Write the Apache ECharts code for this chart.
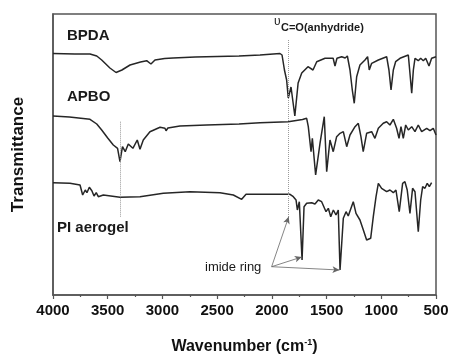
<!DOCTYPE html>
<html>
<head>
<meta charset="utf-8">
<script src="https://cdn.jsdelivr.net/npm/echarts@6/dist/echarts.min.js"></script>
<style>html,body{margin:0;padding:0;background:#fff;}#c{width:452px;height:355px;}</style>
</head>
<body>
<div id="c"></div>
<script>
// FTIR spectra (x: wavenumber cm-1, y: transmittance, arbitrary offset units)
const bpdaWn = [4000,3800,3662,3600,3555,3480,3424,3370,3296,3200,3144,3105,3068,2980,2903,2700,2500,2300,2108,1926,1907,1885,1865,1850,1825,1790,1760,1727,1670,1624,1590,1514,1440,1423,1405,1362,1330,1310,1286,1265,1247,1225,1195,1149,1125,1110,1088,1027,951,930,911,890,869,829,753,738,722,707,692,662,640,616,594,564,540,500];
const bpdaT  = [241.5,241,241,239,235,227,222.5,225,230,233,234.3,231,235,236.5,237,238,238.5,239,240,241.5,240,225,215,197,208,179,212,222,228.3,225,233.3,236.7,236.7,229,236.7,238.3,237,239,225,205,191.7,218.3,230,235,238.3,225,231.7,235,238.3,225,205,225,233.3,236.7,240,221.7,201.7,225,236.7,234.3,236.7,234.3,236.7,229,236.7,238.3];

const apboWn = [4000,3850,3662,3600,3555,3500,3449,3410,3388,3365,3340,3312,3270,3230,3205,3175,3114,3022,2977,2967,2950,2840,2596,2300,2108,1850,1720,1682,1667,1642,1630,1600,1560,1521,1499,1469,1439,1408,1377,1347,1316,1286,1240,1210,1186,1165,1134,1088,1058,1027,982,951,921,890,860,838,820,799,777,753,722,692,662,631,585,555,525,500];
const apboT  = [179,178,175.7,171,165,157,150,146.7,133.3,148.3,143.3,151,146.7,155,145.7,155,163.3,167.7,166.7,164.3,167,169,170,171,172.3,173.3,175.5,176.7,168.3,143.3,156.7,120,151.7,178.3,123.3,155,143.3,158.3,161.7,163.3,148.3,160,168.3,171.7,158.3,143.3,161.7,163.3,156.7,166.7,171.7,173.3,170,175.7,166.7,156.7,168.3,156.7,170,165,168.3,163.3,170,163.3,166.7,164.3,166.7,160];

const piWn = [4000,3845,3753,3729,3705,3690,3668,3645,3625,3605,3586,3540,3388,3205,2992,2748,2474,2352,2276,2236,2108,1834,1804,1779,1767,1749,1724,1706,1682,1636,1606,1576,1545,1505,1484,1462,1438,1414,1393,1377,1347,1322,1302,1256,1231,1195,1164,1134,1097,1073,1048,1027,997,951,921,890,866,836,805,784,763,738,714,692,662,640,622,601,580,561,540];
const piT  = [112.3,111.7,110,100,105,102.3,107.7,104.3,99,102.3,98.3,100,97.7,98.3,101.7,103.3,102.3,100,95.7,100.7,100.7,100.7,98.3,95,85,93.3,35,88.3,91.7,92.3,91,95,93.3,83.3,86.7,78.3,85,80,85,25,76.7,83.3,79,93.3,81.7,75,65,55,56.7,78.3,98.3,111.7,106.7,103.3,105,102.3,105,83.3,111.7,113.3,105,81.7,106.7,103.3,63.3,95,108.3,106.7,111.7,108.3,112.3];

const seriesNames = ['BPDA','APBO','PI aerogel'];
const xTicks = {min: 500, max: 4000, step: 500};
// marker lines: [wavenumber, from, to]
const guideLines = [[1850, 255, 78], [3390, 173.3, 78.3]];
// arrows for "imide ring": start [wn, T], ends
const arrowStart = [2002, 28.3];
const arrowEnds = [[1846, 78.3], [1727, 38], [1382, 25]];

const FONT = '"Liberation Sans", Arial, sans-serif';
const zip = (a, b) => a.map((v, i) => [v, b[i]]);
const lineCol = '#262626';

const chart = echarts.init(document.getElementById('c'), null, {renderer: 'canvas'});
chart.setOption({
  animation: false,
  backgroundColor: '#fff',
  grid: {left: 53, right: 16, top: 14, bottom: 60, show: true, borderColor: '#555', borderWidth: 1.5,
    containLabel: false, outerBoundsMode: 'none'},
  xAxis: {
    type: 'value', inverse: true, min: xTicks.min, max: xTicks.max, interval: xTicks.step,
    axisLine: {lineStyle: {color: '#555', width: 1.5}},
    axisTick: {show: true, inside: false, length: 4, lineStyle: {color: '#555', width: 1.2}},
    minorTick: {show: true, splitNumber: 2, length: 2, lineStyle: {color: '#555', width: 1.2}},
    axisLabel: {color: '#111', fontFamily: FONT, fontWeight: 'bold', fontSize: 15, margin: 8,
      formatter: v => String(v)},
    splitLine: {show: false},
    name: '{b|Wavenumber (cm}{s|-1}{b|)}',
    nameLocation: 'middle', nameGap: 43,
    nameTextStyle: {
      rich: {
        b: {fontFamily: FONT, fontWeight: 'bold', fontSize: 16, color: '#111', lineHeight: 18},
        s: {fontFamily: FONT, fontWeight: 'bold', fontSize: 9, color: '#111', verticalAlign: 'top', padding: [0, 0, 8, 0], lineHeight: 18}
      }
    }
  },
  yAxis: {
    type: 'value', min: 0, max: 281,
    axisLine: {show: true, lineStyle: {color: '#555', width: 1.5}},
    axisTick: {show: false}, axisLabel: {show: false}, splitLine: {show: false},
    name: 'Transmittance', nameLocation: 'middle', nameGap: 26,
    nameTextStyle: {fontFamily: FONT, fontWeight: 'bold', fontSize: 17, color: '#111'}
  },
  series: [
    {
      name: seriesNames[0], type: 'line', data: zip(bpdaWn, bpdaT), showSymbol: false, symbol: 'none',
      lineStyle: {color: lineCol, width: 1.5}, silent: true,
      markLine: {
        silent: true, symbol: 'none', label: {show: false},
        lineStyle: {color: '#9a9a9a', type: 'dotted', width: 1},
        data: guideLines.map(g => [{coord: [g[0], g[1]]}, {coord: [g[0], g[2]]}])
      }
    },
    {
      name: seriesNames[1], type: 'line', data: zip(apboWn, apboT), showSymbol: false, symbol: 'none',
      lineStyle: {color: lineCol, width: 1.5}, silent: true
    },
    {
      name: seriesNames[2], type: 'line', data: zip(piWn, piT), showSymbol: false, symbol: 'none',
      lineStyle: {color: lineCol, width: 1.5}, silent: true,
      markLine: {
        silent: true, symbol: ['none', 'arrow'], symbolSize: [5, 7], label: {show: false},
        lineStyle: {color: '#666', type: 'solid', width: 0.8},
        data: arrowEnds.map(e => [{coord: arrowStart}, {coord: e}])
      }
    }
  ],
  graphic: [
    {type: 'text', left: 67, top: 28, style: {text: seriesNames[0], font: 'bold 15px ' + FONT, fill: '#1a1a1a'}},
    {type: 'text', left: 67, top: 89, style: {text: seriesNames[1], font: 'bold 15px ' + FONT, fill: '#1a1a1a'}},
    {type: 'text', left: 57, top: 220, style: {text: seriesNames[2], font: 'bold 15px ' + FONT, fill: '#1a1a1a'}},
    {type: 'text', left: 274, top: 16, style: {text: 'υ', font: '12px ' + FONT, fill: '#1a1a1a'}},
    {type: 'text', left: 281, top: 22, style: {text: 'C=O(anhydride)', font: 'bold 11px ' + FONT, fill: '#1a1a1a'}},
    {type: 'text', left: 205, top: 261, style: {text: 'imide ring', font: '13px ' + FONT, fill: '#1a1a1a'}}
  ]
});
</script>
</body>
</html>
